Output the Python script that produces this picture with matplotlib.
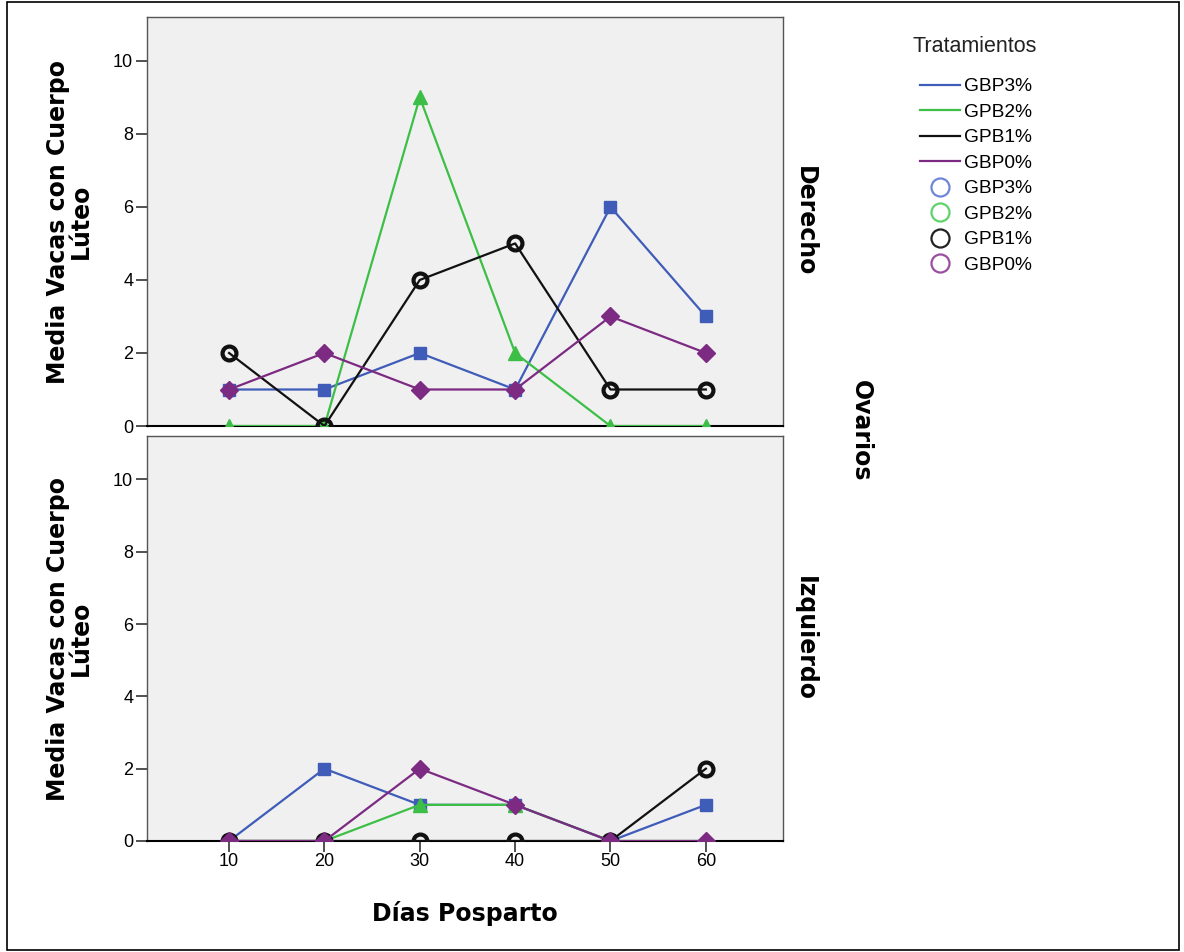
import matplotlib
matplotlib.use("Agg")
import matplotlib.pyplot as plt
from matplotlib.lines import Line2D
from matplotlib.patches import Rectangle

plt.rcParams["font.family"] = ["Liberation Sans", "DejaVu Sans"]

dias = [10, 20, 30, 40, 50, 60]
grupos = ["GBP3%", "GPB2%", "GPB1%", "GBP0%"]

# Ovario derecho
derecho_gbp3 = [1, 1, 2, 1, 6, 3]
derecho_gpb2 = [0, 0, 9, 2, 0, 0]
derecho_gpb1 = [2, 0, 4, 5, 1, 1]
derecho_gbp0 = [1, 2, 1, 1, 3, 2]

# Ovario izquierdo
izquierdo_gbp3 = [0, 2, 1, 1, 0, 1]
izquierdo_gpb2 = [0, 0, 1, 1, 0, 0]
izquierdo_gpb1 = [0, 0, 0, 0, 0, 2]
izquierdo_gbp0 = [0, 0, 2, 1, 0, 0]

paneles = ["Derecho", "Izquierdo"]
datos = {
    "Derecho": [derecho_gbp3, derecho_gpb2, derecho_gpb1, derecho_gbp0],
    "Izquierdo": [izquierdo_gbp3, izquierdo_gpb2, izquierdo_gpb1, izquierdo_gbp0],
}

colores = ["#3f5cb8", "#3dbf47", "#111111", "#7c2a82"]
colores_leyenda = ["#6f86d8", "#5fd36a", "#222222", "#9a4ea0"]
estilos = [
    dict(marker="s", ms=9, mfc="#3f5cb8", mec="#3f5cb8"),
    dict(marker="^", ms=10, mfc="#3dbf47", mec="#3dbf47"),
    dict(marker="o", ms=10, mfc="none", mec="#111111", mew=3),
    dict(marker="D", ms=9, mfc="#7c2a82", mec="#7c2a82"),
]
bold = dict(fontsize=17, fontweight="bold", family="DejaVu Sans")

fig = plt.figure(figsize=(11.84, 9.52), dpi=100)
ax_top = fig.add_axes([0.1242, 0.5525, 0.5372, 0.4296])
ax_bot = fig.add_axes([0.1242, 0.1166, 0.5372, 0.4254])

for ax, panel in zip([ax_top, ax_bot], paneles):
    ax.set_facecolor("#f0f0f0")
    for serie, color, est in zip(datos[panel], colores, estilos):
        ax.plot(dias, serie, color=color, lw=1.6, zorder=3, **est)
    ax.set_xlim(1.4, 68.1)
    ax.set_ylim(0, 11.2)
    ax.set_yticks([0, 2, 4, 6, 8, 10])
    ax.tick_params(axis="y", labelsize=13, length=8, width=1.2, color="#333333", pad=2)
    for s in ax.spines.values():
        s.set_color("#555555")
        s.set_linewidth(1)
    ax.spines["bottom"].set_color("black")
    ax.spines["bottom"].set_linewidth(1.5)
    ax.set_ylabel("Media Vacas con Cuerpo\nLúteo", linespacing=0.95, **bold)
    ax.yaxis.set_label_coords(-0.085, 0.5)
    ax.text(1.015, 0.5, panel, transform=ax.transAxes, rotation=-90, ha="left", va="center", **bold)

ax_top.set_xticks([])
ax_bot.set_xticks(dias)
ax_bot.tick_params(axis="x", labelsize=13, length=8, width=1.2, color="#333333", pad=1)
ax_bot.set_xlabel("Días Posparto", labelpad=22, **bold)

fig.text(0.727, 0.548, "Ovarios", rotation=-90, ha="center", va="center", **bold)

handles = [Line2D([], [], color=c, lw=1.6) for c in colores]
handles += [Line2D([], [], ls="none", marker="o", ms=13, mfc="none", mec=c, mew=1.6)
            for c in colores_leyenda]
labels = grupos + grupos
fig.text(975 / 1184, 1 - 47 / 952, "Tratamientos", ha="center", va="center",
         fontsize=15.5, color="#222222")
fig.legend(handles, labels, loc="upper left", bbox_to_anchor=(920 / 1184, 1 - 78 / 952),
           frameon=False, fontsize=13.8, borderpad=0, borderaxespad=0,
           handlelength=2.1, labelspacing=0.42, handletextpad=0.2)

fig.patches.append(Rectangle((0.006, 0.002), 0.99, 0.996, transform=fig.transFigure,
                             fill=False, edgecolor="black", lw=1.2))

fig.savefig("out.png", dpi=100)
